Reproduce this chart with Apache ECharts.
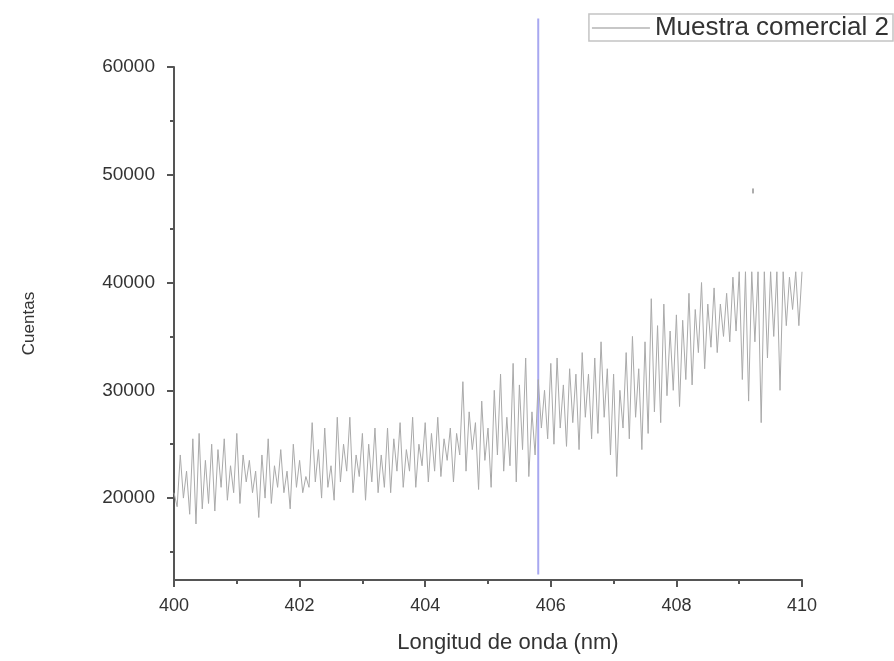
<!DOCTYPE html>
<html>
<head>
<meta charset="utf-8">
<script src="https://cdn.jsdelivr.net/npm/echarts@6/dist/echarts.min.js"></script>
<style>html,body{margin:0;padding:0;background:#fff;}#c{width:894px;height:661px;}</style>
</head>
<body>
<div id="c"></div>
<script>
const xStart = 400, xStep = 0.05;
const counts = [
20500,19200,24000,20000,22500,18500,25500,17600,26000,19000,
23500,19500,25000,18800,24500,21000,25500,19800,23000,20500,
26000,19500,24000,21500,23500,20500,22500,18200,24000,20000,
25500,19500,23000,21000,24500,20500,22500,19000,25000,21000,
23500,20500,22000,21000,27000,21500,24500,20000,26500,21000,
23000,19800,27500,21500,25000,22500,27500,20500,24000,22000,
26000,19800,25000,21500,26500,20500,24000,21000,26500,20500,
25500,22500,27000,21000,24500,22500,27500,21000,25000,23000,
27000,21500,26000,22500,27500,22000,25500,23500,26500,21500,
26000,24000,30800,22500,28000,24500,27000,20800,29000,23500,
26500,21000,30000,24000,31500,22500,27500,23000,32500,21500,
30500,24500,33000,22000,28000,24000,31000,26500,30000,25500,
32500,25000,33000,26500,30500,24800,32000,27000,31500,24500,
33500,27500,31500,25500,33000,26000,34500,27500,32000,24000,
31500,22000,30000,26500,33500,25500,35000,27500,32000,24500,
34500,26000,38500,28000,36000,27000,38000,29500,35500,30000,
37000,28500,36500,31000,39000,30500,37500,33500,40000,32000,
38000,34000,39500,33500,38000,35000,39000,34500,40500,35500,
41000,31000,41000,29000,41000,34500,41000,27000,41000,33000,
41000,35000,41000,30000,41000,36000,40500,37500,41000,36000,
41000
];
const markerX = [405.8, 405.8];
const markerY = [12900, 64500];
const strayPoint = [409.22, 48500];
const yLabels = [20000, 30000, 40000, 50000, 60000];
const yMinor = [15000, 25000, 35000, 45000, 55000];

const seriesData = counts.map((v, i) => [+(xStart + i * xStep).toFixed(2), v]);
const markerData = markerX.map((x, i) => [x, markerY[i]]);

const chart = echarts.init(document.getElementById('c'));
const font = 'Liberation Sans, Arial, sans-serif';
chart.setOption({
  animation: false,
  backgroundColor: '#fff',
  grid: { left: 174, right: 92, top: 67, bottom: 81 },
  legend: {
    data: [{ name: 'Muestra comercial 2', icon: 'rect' }],
    right: 1, top: 14,
    padding: [1, 4, 0, 3],
    borderColor: '#c4c4c4', borderWidth: 1.5,
    itemWidth: 58, itemHeight: 1.5, itemGap: 4,
    textStyle: { fontFamily: font, fontSize: 26, color: '#333' }
  },
  xAxis: {
    type: 'value', min: 400, max: 410, interval: 2,
    axisLine: { show: true, onZero: false, lineStyle: { color: '#555', width: 2 } },
    axisTick: { show: true, length: 7, lineStyle: { color: '#555', width: 2 } },
    minorTick: { show: true, splitNumber: 2, length: 4, lineStyle: { color: '#555', width: 2 } },
    splitLine: { show: false },
    axisLabel: { fontFamily: font, fontSize: 18, color: '#333', margin: 17 },
    name: 'Longitud de onda (nm)', nameLocation: 'middle', nameGap: 52,
    nameTextStyle: { fontFamily: font, fontSize: 22, color: '#333', padding: [0, 0, 0, 40] }
  },
  yAxis: [{
    type: 'value', min: 12400, max: 60000,
    axisLine: { show: true, onZero: false, lineStyle: { color: '#555', width: 2 } },
    axisTick: { show: true, length: 7, customValues: yLabels, lineStyle: { color: '#555', width: 2 } },
    splitLine: { show: false },
    axisLabel: { fontFamily: font, fontSize: 19, color: '#333', margin: 19, customValues: yLabels,
      formatter: v => String(v) },
    name: 'Cuentas', nameLocation: 'middle', nameGap: 136, nameRotate: 90,
    nameTextStyle: { fontFamily: font, fontSize: 17, color: '#333' }
  }, {
    type: 'value', min: 12400, max: 60000, position: 'left',
    axisLine: { show: false },
    axisTick: { show: true, length: 4, customValues: yMinor, lineStyle: { color: '#555', width: 2 } },
    splitLine: { show: false },
    axisLabel: { show: false }
  }],
  series: [{
    name: 'Muestra comercial 2', type: 'line', data: seriesData,
    symbol: 'none', clip: true,
    lineStyle: { color: '#aaaaaa', width: 1 },
    itemStyle: { color: '#b4b4b4' }
  }, {
    name: 'marker', type: 'line', data: markerData, symbol: 'none', clip: false,
    lineStyle: { color: '#a8a8f0', width: 2 }, z: 1
  }, {
    name: 'stray', type: 'scatter', data: [strayPoint], symbol: 'rect', symbolSize: [2, 5],
    itemStyle: { color: '#999' }
  }]
});
</script>
</body>
</html>
